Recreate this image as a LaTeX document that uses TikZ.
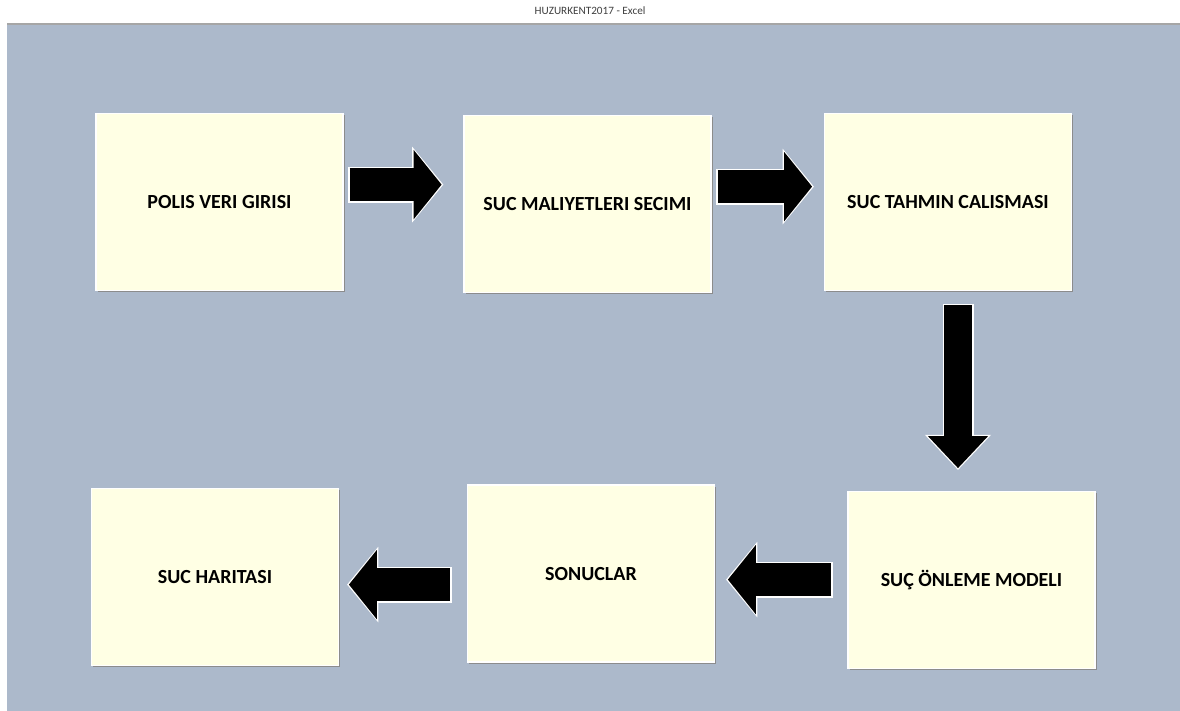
\documentclass[tikz,border=0pt]{standalone}
\usepackage{fontspec}
\setmainfont{Carlito}
\usepackage{tikz}
\usetikzlibrary{arrows.meta,calc,shadows}

\definecolor{sheetbg}{HTML}{ACB9CB}
\definecolor{boxfill}{HTML}{FFFFE4}
\definecolor{titlegray}{HTML}{3F3F3F}

\tikzset{
  stepbox/.style={rectangle, draw=white, line width=0.6pt, fill=boxfill,
    minimum width=123.5pt, minimum height=88.5pt, inner sep=0pt,
    font=\fontsize{10}{12}\selectfont\bfseries,
    drop shadow={shadow xshift=0.8pt, shadow yshift=-0.8pt, fill=black!45, opacity=1}},
  fatarrow/.style={draw=black, line width=16.5pt, shorten >=0.9pt,
    -{Triangle[width=34pt, length=14pt]},
    preaction={draw=white, line width=18pt, shorten <=-0.8pt, shorten >=0pt,
      -{Triangle[width=37pt, length=15.6pt]}}},
  downarrow/.style={draw=black, line width=14pt, shorten >=0.9pt,
    -{Triangle[width=29pt, length=16pt]},
    preaction={draw=white, line width=15.5pt, shorten <=-0.8pt, shorten >=0pt,
      -{Triangle[width=32pt, length=17.6pt]}}}
}

\begin{document}
\begin{tikzpicture}[x=0.5pt, y=-0.5pt]
  % window and sheet
  \fill[white] (0,0) rectangle (1180,709);
  \fill[sheetbg] (7,23) rectangle (1180,709);
  \fill[black!35] (7,21) rectangle (1180,23);
  \node[font=\fontsize{5.6}{7}\selectfont, text=titlegray] (title) at (590,9) {HUZURKENT2017 - Excel};

  % steps
  \node[stepbox] (p1) at (219.5,200.5) {POLIS VERI GIRISI};
  \node[stepbox] (p2) at (587.5,202.5) {SUC MALIYETLERI SECIMI};
  \node[stepbox] (p3) at (948,200.5) {SUC TAHMIN CALISMASI};
  \node[stepbox] (p4) at (971.5,578.5) {SUÇ ÖNLEME MODELI};
  \node[stepbox] (p5) at (591,572) {SONUCLAR};
  \node[stepbox] (p6) at (215,575.5) {SUC HARITASI};

  % flow
  \draw[fatarrow] ($(p1.east)+(6,-17.5)$) -- ($(p2.west)+(-20,-19.5)$);
  \draw[fatarrow] ($(p2.east)+(6,-17.5)$) -- ($(p3.west)+(-10,-15.5)$);
  \draw[downarrow] ($(p3.south)+(10,14)$) -- ($(p4.north)+(-13.5,-21)$);
  \draw[fatarrow] ($(p4.west)+(-16,-0.5)$) -- ($(p5.east)+(11,6)$);
  \draw[fatarrow] ($(p5.west)+(-17,11)$) -- ($(p6.east)+(8,7.5)$);
\end{tikzpicture}
\end{document}
